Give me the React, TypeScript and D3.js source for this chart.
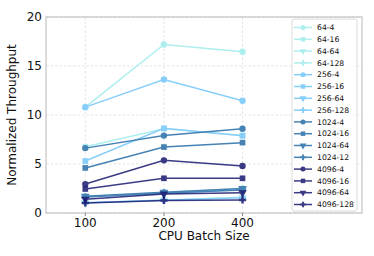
import React, { useEffect, useRef } from "react";
import * as d3 from "d3";

const batchSizes = ["100", "200", "400"];
const seriesNames = [
  "64-4", "64-16", "64-64", "64-128",
  "256-4", "256-16", "256-64", "256-128",
  "1024-4", "1024-16", "1024-64", "1024-12",
  "4096-4", "4096-16", "4096-64", "4096-128",
];
const seriesValues = [
  [10.8, 17.2, 16.45],
  [6.75, 8.6, 7.9],
  [1.05, 1.33, 1.6],
  [1.67, 2.1, 2.5],
  [10.8, 13.62, 11.45],
  [5.3, 8.64, 7.89],
  [1.65, 2.0, 2.4],
  [1.05, 1.3, 1.55],
  [6.62, 7.9, 8.6],
  [4.6, 6.73, 7.18],
  [1.72, 2.12, 2.5],
  [1.62, 2.05, 2.35],
  [2.95, 5.37, 4.8],
  [2.45, 3.54, 3.54],
  [1.4, 1.94, 2.07],
  [1.02, 1.28, 1.33],
];
const groupColors = ["#afeeee", "#87cefa", "#4682b4", "#191970"];
const yTicks = [0, 5, 10, 15, 20];

const symbols = [d3.symbolCircle, d3.symbolSquare, d3.symbolTriangle, d3.symbolCross];

export default function App() {
  const ref = useRef<SVGSVGElement>(null);
  useEffect(() => {
    const node = ref.current;
    if (!node) return;
    const svg = d3.select(node);
    svg.selectAll("*").remove();
    const w = 374, h = 256, m = { t: 17, r: 12, b: 43, l: 46 };
    const font = "DejaVu Sans, sans-serif";

    const x = d3.scaleLinear().domain([-0.5, 3.52]).range([m.l, w - m.r]);
    const y = d3.scaleLinear().domain([0, 20]).range([h - m.b, m.t]);
    const g = svg.append("g");

    // grid
    g.selectAll(".gx").data(batchSizes).enter().append("line")
      .attr("x1", (_, i) => x(i)).attr("x2", (_, i) => x(i))
      .attr("y1", m.t).attr("y2", h - m.b)
      .attr("stroke", "#d8d8d8").attr("stroke-width", 0.7).attr("stroke-dasharray", "2.5,2");
    g.selectAll(".gy").data(yTicks).enter().append("line")
      .attr("x1", m.l).attr("x2", w - m.r)
      .attr("y1", (d) => y(d)).attr("y2", (d) => y(d))
      .attr("stroke", "#d8d8d8").attr("stroke-width", 0.7).attr("stroke-dasharray", "2.5,2");

    // frame
    g.append("rect").attr("x", m.l).attr("y", m.t)
      .attr("width", w - m.r - m.l).attr("height", h - m.b - m.t)
      .attr("fill", "none").attr("stroke", "#b8b8b8").attr("stroke-width", 1);

    // ticks
    g.selectAll(".tx").data(batchSizes).enter().append("line")
      .attr("x1", (_, i) => x(i)).attr("x2", (_, i) => x(i))
      .attr("y1", h - m.b).attr("y2", h - m.b + 3).attr("stroke", "#888");
    g.selectAll(".lx").data(batchSizes).enter().append("text")
      .attr("x", (_, i) => x(i)).attr("y", h - m.b + 14)
      .attr("text-anchor", "middle").attr("font-family", font).attr("font-size", 12)
      .attr("fill", "#111").text((d) => d);
    g.selectAll(".ly").data(yTicks).enter().append("text")
      .attr("x", m.l - 4).attr("y", (d) => y(d)).attr("dy", "0.35em")
      .attr("text-anchor", "end").attr("font-family", font).attr("font-size", 12)
      .attr("fill", "#111").text((d) => d);

    g.append("text").attr("x", (m.l + w - m.r) / 2).attr("y", h - 16)
      .attr("text-anchor", "middle").attr("font-family", font).attr("font-size", 12)
      .attr("fill", "#111").text("CPU Batch Size");
    g.append("text").attr("transform", `translate(16,${(m.t + h - m.b) / 2}) rotate(-90)`)
      .attr("text-anchor", "middle").attr("font-family", font).attr("font-size", 12)
      .attr("fill", "#111").text("Normalized Throughput");

    const line = d3.line<number>().x((_, i) => x(i)).y((d) => y(d));
    const symPath = (i: number, size: number) => {
      const k = i % 4;
      const t = k === 2 ? "rotate(180)" : "";
      return { d: d3.symbol(symbols[k], k === 3 ? size * 0.9 : size)(), t };
    };

    seriesValues.forEach((vals, si) => {
      const color = groupColors[Math.floor(si / 4)];
      const sg = g.append("g").attr("opacity", si >= 12 ? 0.85 : 1);
      sg.append("path").datum(vals).attr("d", line).attr("fill", "none")
        .attr("stroke", color).attr("stroke-width", 1.5);
      const s = symPath(si, 32);
      sg.selectAll("path.m").data(vals).enter().append("path").attr("class", "m")
        .attr("d", s.d)
        .attr("transform", (d, i) => `translate(${x(i)},${y(d)}) ${s.t}`)
        .attr("fill", color);
    });

    // legend
    const lg = g.append("g");
    lg.append("rect").attr("x", 292).attr("y", 19).attr("width", 65).attr("height", 192)
      .attr("rx", 2).attr("fill", "white").attr("fill-opacity", 0.85)
      .attr("stroke", "#d0d0d0").attr("stroke-width", 0.8);
    seriesNames.forEach((name, si) => {
      const color = groupColors[Math.floor(si / 4)];
      const yy = 27.5 + si * 11.8;
      const row = lg.append("g").attr("opacity", si >= 12 ? 0.85 : 1);
      row.append("line").attr("x1", 294).attr("x2", 312).attr("y1", yy).attr("y2", yy)
        .attr("stroke", color).attr("stroke-width", 1.5);
      const s = symPath(si, 20);
      row.append("path").attr("d", s.d).attr("transform", `translate(303,${yy}) ${s.t}`)
        .attr("fill", color);
      lg.append("text").attr("x", 317).attr("y", yy).attr("dy", "0.35em")
        .attr("font-family", font).attr("font-size", 7.7).attr("fill", "#111").text(name);
    });
  }, []);
  return <svg ref={ref} width={374} height={256} style={{ position: "absolute", left: 0, top: 0 }} />;
}
